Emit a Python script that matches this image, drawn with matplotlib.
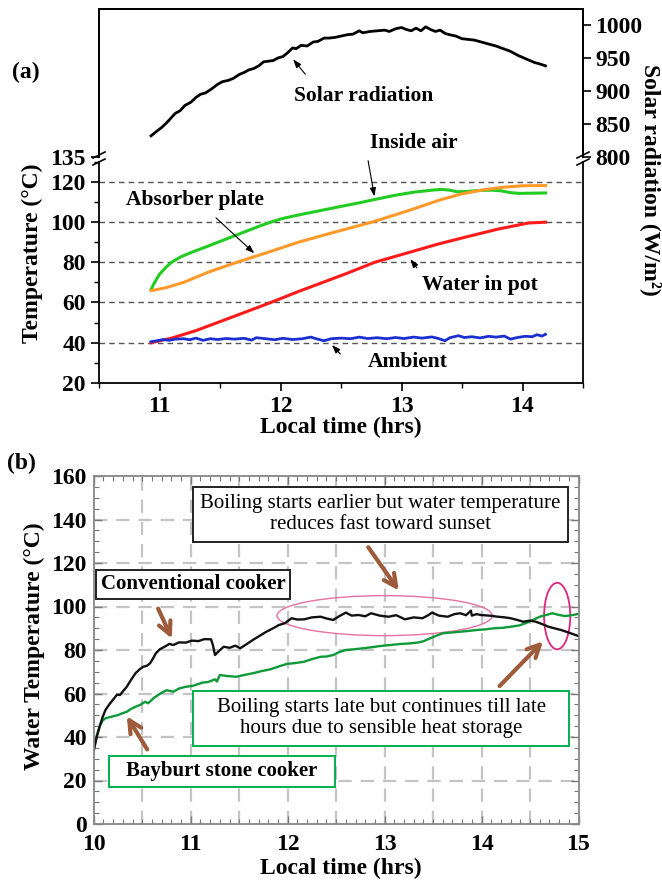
import numpy as np
import matplotlib
matplotlib.use('Agg')
import matplotlib.pyplot as plt
from matplotlib.lines import Line2D
from matplotlib.patches import Ellipse, Rectangle
from matplotlib.ticker import MultipleLocator

plt.rcParams['font.family'] = ['Liberation Serif', 'DejaVu Serif']
plt.rcParams['font.weight'] = 'bold'
plt.rcParams['axes.labelweight'] = 'bold'

# ---------------- panel (a) data ----------------
solar_t = [10.93, 10.97, 11.02, 11.06, 11.09, 11.13, 11.17, 11.21, 11.26, 11.30, 11.34, 11.38,
           11.43, 11.48, 11.52, 11.57, 11.61, 11.66, 11.70, 11.74, 11.78, 11.82, 11.86, 11.90,
           11.94, 11.98, 12.02, 12.06, 12.10, 12.13, 12.17, 12.22, 12.27, 12.31, 12.36, 12.40,
           12.45, 12.50, 12.55, 12.60, 12.65, 12.68, 12.74, 12.80, 12.86, 12.90, 12.95, 13.00,
           13.04, 13.08, 13.12, 13.16, 13.20, 13.24, 13.28, 13.32, 13.36, 13.40, 13.45, 13.50,
           13.55, 13.60, 13.66, 13.72, 13.78, 13.84, 13.90, 13.96, 14.01, 14.06, 14.10, 14.14, 14.19]
solar_w = [832, 838, 845, 852, 858, 866, 870, 878, 883, 890, 895, 897,
           903, 910, 914, 916, 919, 925, 928, 932, 934, 938, 944, 945,
           946, 950, 952, 958, 965, 964, 969, 968, 974, 975, 980, 980,
           981, 983, 985, 986, 991, 988, 990, 991, 992, 990, 994, 996,
           993, 991, 995, 991, 997, 993, 990, 992, 987, 985, 983, 979,
           978, 977, 974, 971, 968, 964, 960, 954, 950, 946, 943, 941, 938]

air_t = [10.93, 10.96, 11.00, 11.05, 11.10, 11.18, 11.26, 11.40, 11.55, 11.70, 11.85, 12.00,
         12.15, 12.30, 12.48, 12.65, 12.78, 12.95, 13.10, 13.25, 13.33, 13.40, 13.46, 13.55,
         13.65, 13.75, 13.82, 13.90, 13.97, 14.05, 14.19]
air_T = [66.5, 70.0, 74.0, 77.3, 80.0, 82.8, 84.8, 88.0, 91.5, 95.0, 98.5, 101.5,
         103.5, 105.3, 107.5, 109.5, 111.2, 113.3, 114.8, 115.8, 116.2, 115.8, 115.0, 115.2,
         115.7, 115.8, 115.5, 114.6, 114.2, 114.3, 114.4]

plate_t = [10.93, 11.05, 11.20, 11.40, 11.64, 11.90, 12.15, 12.45, 12.76, 13.05, 13.32,
           13.50, 13.68, 13.85, 14.00, 14.19]
plate_T = [65.9, 67.3, 70.0, 75.0, 80.0, 85.0, 90.0, 95.0, 100.0, 105.5, 111.0,
           114.0, 116.0, 117.3, 118.0, 118.1]

pot_t = [10.93, 11.10, 11.30, 11.50, 11.70, 11.92, 12.15, 12.35, 12.55, 12.78, 13.07,
         13.30, 13.55, 13.80, 14.05, 14.19]
pot_T = [40.0, 42.3, 46.0, 50.5, 55.0, 60.0, 65.5, 70.0, 74.5, 80.0, 85.0,
         89.0, 92.8, 96.5, 99.5, 99.9]

amb_t = [10.93, 10.98, 11.03, 11.08, 11.13, 11.20, 11.25, 11.30, 11.36, 11.42, 11.48, 11.55,
         11.62, 11.70, 11.76, 11.80, 11.88, 11.95, 12.02, 12.10, 12.18, 12.25, 12.30, 12.36,
         12.42, 12.50, 12.58, 12.65, 12.72, 12.80, 12.88, 12.95, 13.02, 13.10, 13.17, 13.25,
         13.30, 13.36, 13.40, 13.47, 13.52, 13.58, 13.65, 13.72, 13.78, 13.85, 13.90, 13.95,
         14.02, 14.08, 14.12, 14.16, 14.19]
amb_T = [40.5, 41.0, 41.6, 41.2, 41.8, 42.0, 41.5, 42.3, 41.2, 42.0, 41.6, 42.1,
         41.8, 42.2, 41.3, 42.5, 42.0, 41.5, 42.2, 41.6, 42.0, 42.8, 41.9, 41.0,
         42.0, 42.3, 42.0, 42.8, 42.1, 42.5, 42.0, 42.6, 42.1, 42.8, 42.3, 42.9,
         42.2, 41.0, 42.5, 43.5, 42.6, 43.0, 42.4, 43.2, 42.8, 43.3, 41.8, 42.5,
         43.2, 43.0, 44.0, 43.3, 44.2]

# ---------------- panel (b) data ----------------
conv_t = [10.00, 10.03, 10.06, 10.09, 10.12, 10.16, 10.21, 10.24, 10.27, 10.30, 10.34, 10.38,
          10.43, 10.47, 10.51, 10.55, 10.58, 10.61, 10.64, 10.68, 10.73, 10.78, 10.82, 10.88,
          10.95, 11.01, 11.08, 11.14, 11.21, 11.23, 11.25, 11.29, 11.34, 11.40, 11.46, 11.51,
          11.57, 11.64, 11.71, 11.78, 11.85, 11.91, 11.97, 12.04, 12.10, 12.17, 12.25, 12.34,
          12.40, 12.47, 12.53, 12.60, 12.66, 12.73, 12.80, 12.86, 12.95, 13.04, 13.12, 13.21,
          13.30, 13.39, 13.45, 13.49, 13.56, 13.65, 13.72, 13.78, 13.84, 13.89, 13.90, 13.95,
          13.99, 14.08, 14.17, 14.24, 14.30, 14.37, 14.43, 14.50, 14.56, 14.62, 14.69, 14.75,
          14.82, 14.90, 15.00]
conv_T = [34.0, 40.0, 44.8, 49.0, 52.4, 55.0, 57.8, 59.5, 59.3, 61.0, 63.1, 66.0,
          69.3, 71.0, 72.3, 72.8, 73.9, 76.0, 78.5, 80.3, 81.5, 82.8, 82.3, 83.5,
          83.4, 84.3, 84.1, 85.0, 84.9, 82.0, 77.7, 79.5, 81.5, 81.0, 82.0, 80.8,
          82.5, 84.6, 86.5, 88.4, 90.0, 91.5, 92.3, 94.6, 94.0, 94.1, 95.0, 95.3,
          94.5, 93.8, 95.5, 97.2, 95.8, 96.1, 95.5, 96.9, 95.8, 95.3, 96.0, 94.1,
          95.0, 94.6, 96.0, 97.2, 95.8, 95.3, 96.5, 96.9, 96.0, 98.1, 95.8, 96.5,
          96.1, 95.8, 95.3, 95.0, 94.6, 93.8, 93.0, 93.5, 93.0, 92.0, 90.7, 90.0,
          89.2, 88.0, 86.4]

stone_t = [10.00, 10.03, 10.06, 10.09, 10.12, 10.18, 10.25, 10.30, 10.34, 10.38, 10.43, 10.48,
           10.53, 10.56, 10.62, 10.69, 10.75, 10.82, 10.88, 10.95, 11.02, 11.12, 11.18, 11.25,
           11.27, 11.30, 11.38, 11.47, 11.55, 11.64, 11.73, 11.82, 11.90, 11.99, 12.08, 12.17,
           12.25, 12.34, 12.40, 12.47, 12.53, 12.60, 12.68, 12.78, 12.87, 12.95, 13.06, 13.17,
           13.25, 13.34, 13.40, 13.47, 13.53, 13.60, 13.68, 13.78, 13.87, 13.95, 14.04, 14.13,
           14.22, 14.30, 14.39, 14.47, 14.54, 14.60, 14.66, 14.73, 14.79, 14.86, 14.93, 15.00]
stone_T = [34.0, 40.5, 44.8, 47.5, 48.6, 49.3, 50.1, 51.0, 51.6, 52.8, 53.9, 54.8,
           56.2, 55.5, 58.0, 60.1, 61.5, 60.8, 62.3, 63.1, 63.5, 65.0, 65.3, 66.5,
           65.5, 68.5, 68.0, 67.7, 68.5, 69.3, 70.3, 71.1, 72.3, 73.6, 74.0, 74.6,
           75.8, 76.9, 77.0, 77.7, 79.0, 80.0, 80.3, 80.8, 81.3, 81.8, 82.3, 82.8,
           83.0, 83.4, 84.0, 85.4, 86.5, 87.7, 88.0, 88.4, 88.8, 89.2, 89.5, 90.0,
           90.2, 90.7, 91.3, 92.6, 94.0, 95.3, 96.0, 96.9, 96.2, 95.6, 96.0, 96.6]

# ---------------- figure ----------------
fig = plt.figure(figsize=(6.62, 8.83), dpi=100)
W, H = 662.0, 883.0


def fx(px):
    return px / W


def fy(py):
    return 1 - py / H


tick_fs = 17
lab_fs = 17
ann_fs = 15.5
box_fs = 15

# panel (a) axes: upper (solar) and lower (temperature) parts of a broken axis
ax_top = fig.add_axes([fx(99), fy(157), fx(583) - fx(99), fy(9) - fy(157)])
ax_low = fig.add_axes([fx(99), fy(383), fx(583) - fx(99), fy(161.6) - fy(383)])
ax_sol = ax_top.twinx()

for ax in (ax_top, ax_sol):
    ax.set_xlim(10.5, 14.5)
    ax.spines['bottom'].set_visible(False)
    ax.tick_params(axis='x', bottom=False, labelbottom=False)
    for s in ax.spines.values():
        s.set_linewidth(1.3)

ax_top.set_ylim(135, 160)
ax_top.set_yticks([135])
ax_top.tick_params(axis='y', direction='out', length=6, width=1.2, labelsize=tick_fs)

ax_sol.set_ylim(800, 1024)
ax_sol.set_yticks([800, 850, 900, 950, 1000])
ax_sol.tick_params(axis='y', direction='out', length=6, width=1.2, labelsize=tick_fs, pad=3)
ax_sol.plot(solar_t, solar_w, color='black', lw=2.0)

ax_low.set_xlim(10.5, 14.5)
ax_low.set_ylim(20, 130)
ax_low.spines['top'].set_visible(False)
for s in ax_low.spines.values():
    s.set_linewidth(1.3)
ax_low.set_xticks([11, 12, 13, 14])
ax_low.xaxis.set_minor_locator(MultipleLocator(0.5))
ax_low.set_yticks([20, 40, 60, 80, 100, 120])
ax_low.yaxis.set_minor_locator(MultipleLocator(10))
ax_low.tick_params(which='major', direction='out', length=6, width=1.2, labelsize=tick_fs)
ax_low.tick_params(which='minor', direction='out', length=3.5, width=1.0)
for g in [40, 60, 80, 100, 120]:
    ax_low.axhline(g, color='#555555', lw=1.0, ls=(0, (4, 3)), zorder=0)

ax_low.plot(air_t, air_T, color='#22cc22', lw=2.2)
ax_low.plot(plate_t, plate_T, color='#ff9a2a', lw=2.2)
ax_low.plot(pot_t, pot_T, color='#ff1a1a', lw=2.2)
ax_low.plot(amb_t, amb_T, color='#1a2fd0', lw=2.0)

ax_low.set_xlabel('Local time (hrs)', fontsize=lab_fs)
ax_low.xaxis.set_label_coords(0.5, -0.152)
ax_low.set_ylabel('Temperature (°C)', fontsize=lab_fs)
ax_low.yaxis.set_label_coords(-0.116, 0.587)
fig.text(fx(651), fy(180), 'Solar radiation (W/m²)', rotation=270, fontsize=lab_fs,
         ha='center', va='center')

# break marks on left and right spines
for bx in (99, 583):
    for by in (155, 162):
        fig.add_artist(Line2D([fx(bx - 6), fx(bx + 6)], [fy(by + 3), fy(by - 3)],
                              color='black', lw=1.2, transform=fig.transFigure))

# panel (a) labels
arr_a = dict(arrowstyle='-|>,head_length=0.5,head_width=0.18', color='black', lw=0.8)
ax_sol.text(12.69, 892, 'Solar radiation', fontsize=ann_fs, ha='center', va='center')
ax_sol.annotate('', xy=(12.09, 951), xytext=(12.22, 922), arrowprops=arr_a)

ax_low.text(13.10, 139.2, 'Inside air', fontsize=ann_fs, ha='center', va='center', clip_on=False)
ax_low.annotate('', xy=(12.78, 111.4), xytext=(12.72, 131.8), arrowprops=arr_a,
                annotation_clip=False)
ax_low.text(11.29, 110.9, 'Absorber plate', fontsize=ann_fs, ha='center', va='center')
ax_low.annotate('', xy=(11.80, 83.5), xytext=(11.45, 103.0), arrowprops=arr_a)
ax_low.text(13.65, 68.7, 'Water in pot', fontsize=ann_fs, ha='center', va='center')
ax_low.annotate('', xy=(13.06, 82.6), xytext=(13.14, 76.1), arrowprops=arr_a)
ax_low.text(13.05, 30.4, 'Ambient', fontsize=ann_fs, ha='center', va='center')
ax_low.annotate('', xy=(12.41, 39.9), xytext=(12.51, 33.4), arrowprops=arr_a)

fig.text(fx(26), fy(72), '(a)', fontsize=lab_fs, ha='center', va='center')

# ---------------- panel (b) ----------------
axb = fig.add_axes([fx(93.8), fy(824), fx(578.5) - fx(93.8), fy(476) - fy(824)])
axb.set_xlim(10, 15)
axb.set_ylim(0, 160)
axb.set_xticks([10, 11, 12, 13, 14, 15])
axb.set_yticks([0, 20, 40, 60, 80, 100, 120, 140, 160])
axb.xaxis.set_minor_locator(MultipleLocator(0.1))
axb.yaxis.set_minor_locator(MultipleLocator(5))
axb.tick_params(which='both', direction='in', top=True, right=True, color='#777777')
axb.tick_params(which='major', length=6, width=1.0, labelsize=tick_fs)
axb.tick_params(axis='x', which='major', pad=7)
axb.tick_params(axis='y', which='major', pad=5)
axb.tick_params(which='minor', length=3.5, width=0.8)
for s in axb.spines.values():
    s.set_color('#888888')
    s.set_linewidth(1.3)

grid_x = [10.5, 11, 11.5, 12, 12.5, 13, 13.5, 14, 14.5]
grid_y = [20, 40, 60, 80, 100, 120, 140]
for g in grid_x:
    axb.axvline(g, color='#c4c4c4', lw=1.6, ls=(0, (6, 4)), zorder=0)
for g in grid_y:
    axb.axhline(g, color='#c4c4c4', lw=1.6, ls=(0, (6, 4)), zorder=0)

axb.plot(stone_t, stone_T, color='#0f9a3a', lw=1.7)
axb.plot(conv_t, conv_T, color='#111111', lw=1.7)

axb.add_patch(Ellipse((13.0, 95.8), 2.22, 18.4, fill=False, ec='#e8709e', lw=1.0))
axb.add_patch(Ellipse((14.78, 95.6), 0.27, 30.6, fill=False, ec='#e0257f', lw=1.3))

axb.set_xlabel('Local time (hrs)', fontsize=lab_fs)
axb.xaxis.set_label_coords(0.51, -0.098)
axb.set_ylabel('Water Temperature (°C)', fontsize=lab_fs)
axb.yaxis.set_label_coords(-0.101, 0.511)

# annotation boxes: (x0, x1, y0, y1) in data units, edge colour
boxes = [((11.024, 14.894, 129.7, 154.9), '#222222'),
         ((10.023, 12.025, 103.4, 116.8), '#222222'),
         ((11.024, 14.904, 35.9, 61.1), '#00b050'),
         ((10.152, 12.489, 17.0, 31.3), '#00b050')]
for (x0, x1, y0, y1), ec in boxes:
    axb.add_patch(Rectangle((x0, y0), x1 - x0, y1 - y0, fc='white', ec=ec, lw=1.4, zorder=4))

axb.text(12.957, 142.5, 'Boiling starts earlier but water temperature\nreduces fast toward sunset',
         fontsize=box_fs, fontweight='normal', ha='center', va='center', linespacing=1.1, zorder=5)
axb.text(11.025, 110.3, 'Conventional cooker', fontsize=box_fs, ha='center', va='center', zorder=5)
axb.text(12.967, 48.7, 'Boiling starts late but continues till late\nhours due to sensible heat storage',
         fontsize=box_fs, fontweight='normal', ha='center', va='center', linespacing=1.1, zorder=5)
axb.text(11.323, 24.4, 'Bayburt stone cooker', fontsize=box_fs, ha='center', va='center', zorder=5)

arr_b = dict(arrowstyle='->,head_length=0.9,head_width=0.45', color='#9e5b3c', lw=3)
axb.annotate('', xy=(13.163, 106.3), xytext=(12.815, 128.3), arrowprops=arr_b)
axb.annotate('', xy=(10.817, 84.1), xytext=(10.652, 100.2), arrowprops=arr_b)
axb.annotate('', xy=(10.326, 50.6), xytext=(10.566, 33.2), arrowprops=arr_b)
axb.annotate('', xy=(14.654, 84.9), xytext=(14.166, 62.5), arrowprops=arr_b)

fig.text(fx(21), fy(463), '(b)', fontsize=lab_fs, ha='center', va='center')

fig.savefig('out.png', dpi=100)
